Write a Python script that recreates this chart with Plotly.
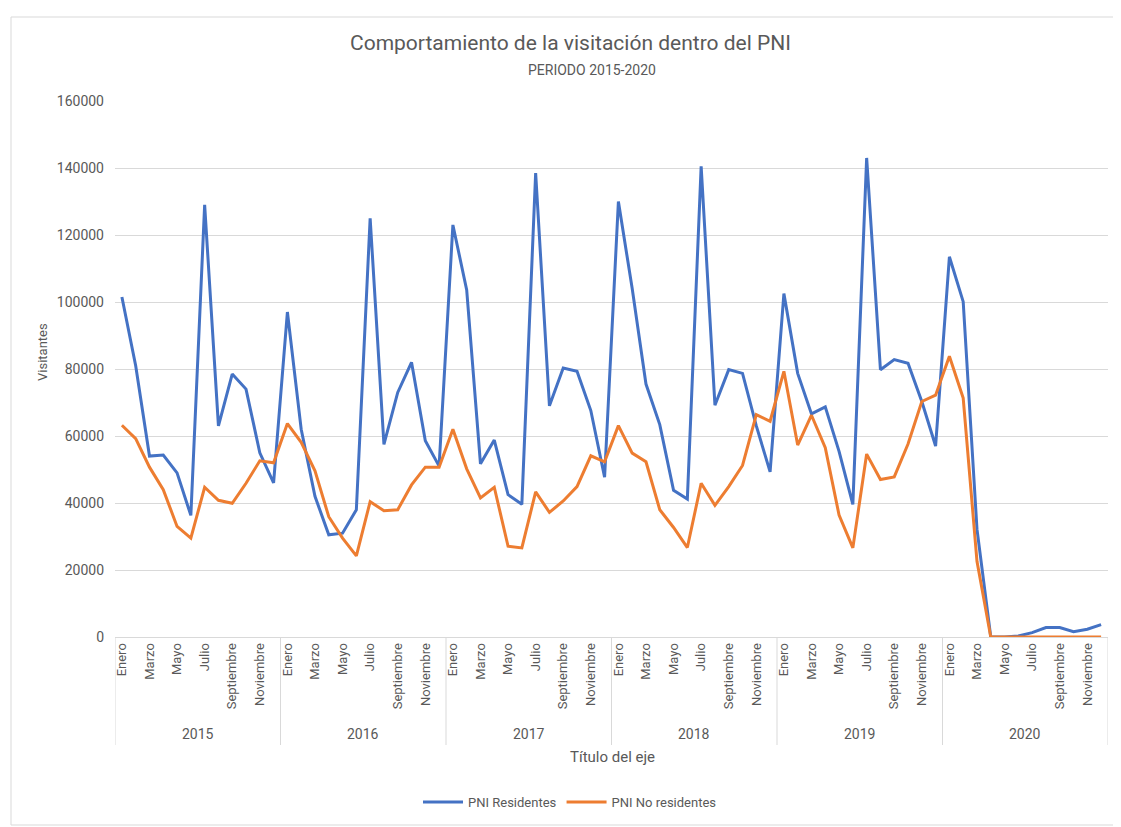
import plotly.graph_objects as go

years = ["2015", "2016", "2017", "2018", "2019", "2020"]
months = ["Enero", "Febrero", "Marzo", "Abril", "Mayo", "Junio", "Julio",
          "Agosto", "Septiembre", "Octubre", "Noviembre", "Diciembre"]

residentes = [
    101500, 81000, 54000, 54300, 49000, 36300, 129000, 63000, 78500, 74000, 55000, 46000,
    97000, 62000, 42000, 30500, 31000, 38000, 125000, 57500, 73000, 82000, 58600, 51000,
    123000, 103600, 51700, 58800, 42500, 39600, 138500, 69000, 80300, 79300, 67600, 47700,
    130000, 104000, 75500, 63400, 43800, 41200, 140500, 69200, 79800, 78700, 63000, 49300,
    102500, 78700, 66600, 68700, 55400, 39600, 143000, 79800, 82800, 81700, 70300, 57000,
    113500, 100100, 32200, 0, 0, 300, 1300, 2800, 2800, 1600, 2300, 3700,
]
no_residentes = [
    63200, 59200, 50700, 44000, 33000, 29500, 44700, 40800, 39900, 45900, 52600, 52000,
    63700, 58100, 49600, 35900, 29500, 24200, 40400, 37700, 38000, 45400, 50700, 50700,
    62000, 50200, 41500, 44700, 27100, 26600, 43300, 37200, 40600, 44900, 54100, 52300,
    63100, 54900, 52300, 38000, 32700, 26700, 45900, 39300, 44900, 51200, 66400, 64400,
    79300, 57300, 66200, 56500, 36400, 26600, 54600, 47000, 47800, 57600, 70300, 72200,
    83800, 71300, 22600, 0, 0, 0, 0, 0, 0, 0, 0, 0,
]

n = len(years) * len(months)
x = list(range(n))
ticktext = [months[i % 12] if i % 2 == 0 else "" for i in range(n)]

FONT = "Roboto"
GRAY = "#595959"
LINEGRAY = "#d9d9d9"

fig = go.Figure()
fig.add_trace(go.Scatter(x=x, y=residentes, mode="lines", name="PNI Residentes",
                         line=dict(color="#4472C4", width=3)))
fig.add_trace(go.Scatter(x=x, y=no_residentes, mode="lines", name="PNI No residentes",
                         line=dict(color="#ED7D31", width=3)))

# page body has an 8px margin; work in page pixels and shift
OFF = 8
PAGE_W, PAGE_H = 1121, 827
W, H = PAGE_W - OFF, PAGE_H - OFF
PL, PR, PT, PB = 115, 1108, 101, 637  # plot area in page pixels
L, T = PL - OFF, PT - OFF
R = W - (PR - OFF)
B = H - (PB - OFF)
pw, ph = PR - PL, PB - PT

def px2x(p):
    return (p - PL) / pw

def px2y(p):
    return (PB - p) / ph

shapes = []
for k in range(len(years) + 1):
    xv = -0.5 + 12 * k
    shapes.append(dict(type="line", xref="x", yref="paper", x0=xv, x1=xv,
                       y0=0, y1=px2y(745), line=dict(color=LINEGRAY, width=1)))
shapes.append(dict(type="rect", xref="paper", yref="paper",
                   x0=px2x(11), x1=px2x(1118), y0=px2y(825), y1=px2y(17),
                   line=dict(color=LINEGRAY, width=1), fillcolor="rgba(0,0,0,0)"))

annotations = []
for k, yr in enumerate(years):
    annotations.append(dict(text=yr, xref="x", yref="paper", x=5.5 + 12 * k, y=px2y(734),
                            showarrow=False, font=dict(family=FONT, size=14, color=GRAY),
                            xanchor="center", yanchor="middle"))
annotations += [
    dict(text="Comportamiento de la visitación dentro del PNI", xref="paper", yref="paper",
         x=px2x(570), y=px2y(43), showarrow=False, xanchor="center", yanchor="middle",
         font=dict(family=FONT, size=21, color=GRAY)),
    dict(text="PERIODO 2015-2020", xref="paper", yref="paper",
         x=px2x(592), y=px2y(70), showarrow=False, xanchor="center", yanchor="middle",
         font=dict(family=FONT, size=14, color=GRAY)),
    dict(text="Visitantes", xref="paper", yref="paper", x=px2x(42), y=px2y(352),
         showarrow=False, textangle=-90, xanchor="center", yanchor="middle",
         font=dict(family=FONT, size=13, color=GRAY)),
    dict(text="Título del eje", xref="paper", yref="paper", x=px2x(612), y=px2y(757),
         showarrow=False, xanchor="center", yanchor="middle",
         font=dict(family=FONT, size=15, color=GRAY)),
]

fig.update_layout(
    width=W, height=H,
    margin=dict(l=L, r=R, t=T, b=B, autoexpand=False),
    paper_bgcolor="white", plot_bgcolor="white",
    font=dict(family=FONT, color=GRAY, size=12),
    showlegend=True,
    legend=dict(orientation="h", xanchor="center", yanchor="middle",
                x=px2x(570), y=px2y(802), font=dict(family=FONT, size=13, color=GRAY),
                itemwidth=40),
    shapes=shapes,
    annotations=annotations,
    xaxis=dict(range=[-0.5, n - 0.5], tickmode="array", tickvals=x, ticktext=ticktext,
               tickangle=-90, showgrid=False, zeroline=False, showline=True,
               linecolor=LINEGRAY, linewidth=1, ticks="",
               tickfont=dict(family=FONT, size=13, color=GRAY), fixedrange=True),
    yaxis=dict(range=[0, 160000], dtick=20000, tick0=0, showgrid=True, gridcolor=LINEGRAY,
               gridwidth=1, zeroline=False, showline=False, ticks="",
               tickformat="d", ticklabelstandoff=10,
               tickfont=dict(family=FONT, size=14, color=GRAY), fixedrange=True),
)

fig.write_html("out.html")
